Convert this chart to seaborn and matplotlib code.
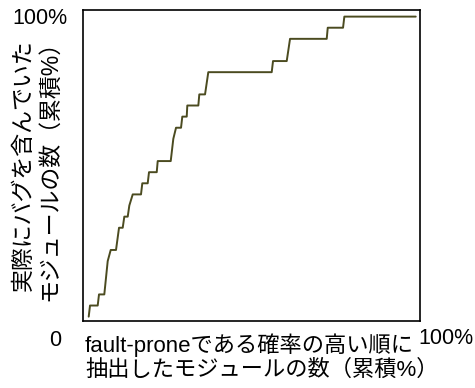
import numpy as np
import pandas as pd
import matplotlib
matplotlib.use("Agg")
import matplotlib.pyplot as plt
import seaborn as sns

# cumulative % of modules picked (ordered by fault-prone probability)
picked_pct = [0.0, 0.4, 2.75, 3.15, 4.77, 5.81, 6.73, 8.35, 9.27, 10.40,
              10.89, 11.93, 12.42, 13.46, 15.99, 16.39, 18.04, 18.44, 20.80, 21.10,
              25.08, 25.87, 26.70, 28.23, 28.62, 29.97, 30.15, 33.52, 33.82, 35.57,
              36.57, 55.96, 56.36, 60.55, 61.56, 72.78, 73.09, 77.77, 78.17, 100.0]
# cumulative number of modules that really had bugs (of 27)
bug_count = [0, 1, 1, 2, 2, 5, 6, 6, 8, 8,
             9, 9, 10, 11, 11, 12, 12, 13, 13, 14,
             14, 16, 17, 17, 18, 18, 19, 19, 20, 20,
             22, 22, 23, 23, 25, 25, 26, 26, 27, 27]
bug_total = 27

corner_labels = ["100%", "0", "100%"]
xlabel_lines = ["fault-proneである確率の高い順に", "抽出したモジュールの数（累積%）"]
ylabel_lines = ["実際にバグを含んでいた", "モジュールの数（累積%）"]

df = pd.DataFrame({"x": picked_pct,
                   "y": np.array(bug_count) / bug_total * 100})

sns.set_style("white")
plt.rcParams['font.family'] = ['Liberation Sans', 'Noto Sans CJK JP', 'DejaVu Sans']
plt.rcParams['text.color'] = 'black'

fig = plt.figure(figsize=(4.75, 3.88), dpi=100)
ax = fig.add_axes([0.1747, 0.1727, 0.7095, 0.8015])
sns.lineplot(data=df, x="x", y="y", sort=False, estimator=None,
             color="#4b4b20", linewidth=1.4, ax=ax)
ax.set_xlim(-1.75, 101.3)
ax.set_ylim(-1.45, 102.2)
ax.set_xticks([])
ax.set_yticks([])
ax.set_xlabel("")
ax.set_ylabel("")
for s in ax.spines.values():
    s.set_color("black")
    s.set_linewidth(1.2)

fs = 16
fig.text(40 / 475, 1 - 19 / 388, corner_labels[0], fontsize=15.5, ha="center", va="center")
fig.text(55 / 475, 1 - 341 / 388, corner_labels[1], fontsize=15.5, ha="center", va="center")
fig.text(446 / 475, 1 - 339 / 388, corner_labels[2], fontsize=15.5, ha="center", va="center")
fig.text(85 / 475, 1 - 345 / 388, xlabel_lines[0], fontsize=fs, ha="left", va="center")
fig.text(85 / 475, 1 - 370 / 388, xlabel_lines[1], fontsize=fs, ha="left", va="center")
fig.text(23 / 475, 1 - 165 / 388, ylabel_lines[0], fontsize=16.5, rotation=90,
         ha="center", va="center")
fig.text(50 / 475, 1 - 165 / 388, ylabel_lines[1], fontsize=16.5, rotation=90,
         ha="center", va="center")

fig.savefig("out.png", dpi=100)
